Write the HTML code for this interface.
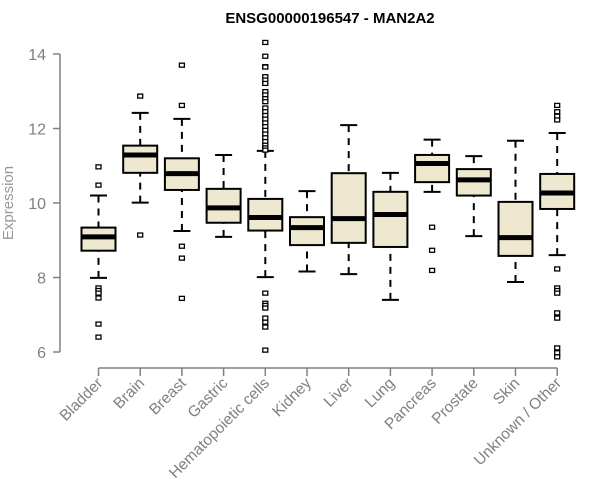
<!DOCTYPE html>
<html><head><meta charset="utf-8">
<style>
html,body{margin:0;padding:0;background:#fff;}
svg{display:block;font-family:"Liberation Sans",Arial,sans-serif;}
</style></head>
<body>
<svg id="chart" width="600" height="500" viewBox="0 0 600 500" xmlns="http://www.w3.org/2000/svg">
<text x="330" y="23" text-anchor="middle" font-size="15" font-weight="bold" fill="#000">ENSG00000196547 - MAN2A2</text>
<text transform="translate(13,203) rotate(-90)" text-anchor="middle" font-size="15" fill="#999">Expression</text>
<g id="axes"></g>
<g id="boxes"></g>
</svg>
<script>
const categories = ["Bladder","Brain","Breast","Gastric","Hematopoietic cells","Kidney","Liver","Lung","Pancreas","Prostate","Skin","Unknown / Other"];
const whiskerLow  = [7.99,10.01,9.25,9.09,8.01,8.16,8.09,7.40,10.30,9.11,7.88,8.60];
const q1Values    = [8.72,10.81,10.35,9.47,9.26,8.87,8.93,8.82,10.56,10.20,8.58,9.84];
const medians     = [9.09,11.29,10.79,9.87,9.61,9.34,9.58,9.69,11.06,10.62,9.07,10.27];
const q3Values    = [9.34,11.54,11.20,10.38,10.11,9.62,10.80,10.30,11.29,10.91,10.03,10.78];
const whiskerHigh = [10.20,12.42,12.26,11.29,11.40,10.32,12.09,10.81,11.70,11.26,11.67,11.88];
const outliers = [
  [10.97,10.48,7.72,7.65,7.58,7.45,6.75,6.40],
  [12.87,9.14],
  [13.70,12.62,8.84,8.52,7.44],
  [],
  [14.31,13.94,13.66,13.65,13.39,13.30,13.21,12.99,12.90,12.80,12.72,12.55,12.45,12.35,12.25,12.15,12.05,11.95,11.85,11.75,11.65,11.55,11.48,11.42,7.58,7.31,7.25,7.18,6.91,6.80,6.67,6.05],
  [],[],[],
  [9.35,8.73,8.19],
  [],[],
  [12.62,12.45,12.33,12.23,8.23,7.72,7.65,7.58,7.05,6.91,6.11,5.98,5.87]
];
const yTicks = [6,8,10,12,14];

const NS="http://www.w3.org/2000/svg";
function y(v){return 352-(v-6)*37.25;}
function x(i){return 98.5+i*41.7;}
function mk(tag,attrs,parent){const e=document.createElementNS(NS,tag);for(const k in attrs)e.setAttribute(k,attrs[k]);parent.appendChild(e);return e;}
const axes=document.getElementById('axes');
const boxes=document.getElementById('boxes');
const gray="#808080";
const ya=mk('line',{x1:60,x2:60,y1:y(14),y2:y(6),stroke:gray,'stroke-width':1.5},axes);


yTicks.forEach(t=>{
  const tl=mk('line',{x1:53,x2:60,y1:y(t),y2:y(t),stroke:gray,'stroke-width':1.5},axes);
  
  
  const tx=mk('text',{x:46,y:y(t)+6,'text-anchor':'end','font-size':16,fill:gray},axes);
  
  
  tx.textContent=t;
});
const xa=mk('line',{x1:x(0),x2:x(categories.length-1),y1:368,y2:368,stroke:gray,'stroke-width':1.5},axes);


categories.forEach((c,i)=>{
  const tl=mk('line',{x1:x(i),x2:x(i),y1:368,y2:376,stroke:gray,'stroke-width':1.5},axes);
  
  
  const tx=mk('text',{transform:`translate(${x(i)+5},${384}) rotate(-45)`,'text-anchor':'end','font-size':15.5,fill:gray},axes);
  
  
  tx.textContent=c;
});
categories.forEach((c,i)=>{
  const cx=x(i),hw=17,cw=8.5;
  const g=mk('g',{},boxes);
  
  
  mk('line',{x1:cx,x2:cx,y1:y(whiskerHigh[i]),y2:y(q3Values[i]),stroke:'#000','stroke-width':2,'stroke-dasharray':'7,6'},g);
  mk('line',{x1:cx,x2:cx,y1:y(whiskerLow[i]),y2:y(q1Values[i]),stroke:'#000','stroke-width':2,'stroke-dasharray':'7,6'},g);
  mk('line',{x1:cx-cw,x2:cx+cw,y1:y(whiskerHigh[i]),y2:y(whiskerHigh[i]),stroke:'#000','stroke-width':2},g);
  mk('line',{x1:cx-cw,x2:cx+cw,y1:y(whiskerLow[i]),y2:y(whiskerLow[i]),stroke:'#000','stroke-width':2},g);
  mk('rect',{x:cx-hw,y:y(q3Values[i]),width:hw*2,height:y(q1Values[i])-y(q3Values[i]),fill:'#ede8cf',stroke:'#000','stroke-width':2},g);
  mk('line',{x1:cx-hw,x2:cx+hw,y1:y(medians[i]),y2:y(medians[i]),stroke:'#000','stroke-width':5},g);
  outliers[i].forEach(v=>{
    const p=mk('rect',{x:cx-2.5,y:y(v)-2,width:5,height:4,fill:'#fff',stroke:'#000','stroke-width':1.3},g);
    
    
  });
});
</script>
</body></html>
